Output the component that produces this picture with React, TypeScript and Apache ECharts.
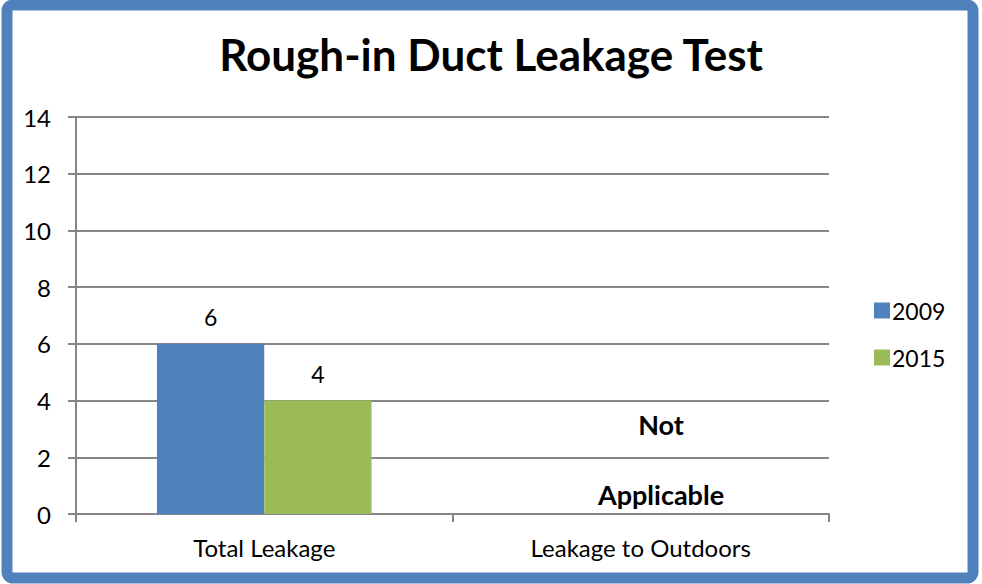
import React, { useEffect, useRef } from "react";
import * as echarts from "echarts";

const categories = ["Total Leakage", "Leakage to Outdoors"];
const series2009 = [6, null];
const series2015 = [4, null];
const seriesNames = ["2009", "2015"];
const notApplicableLines = ["Not", "Applicable"];

const FONT = "Lato, 'Open Sans', sans-serif";

export default function App() {
  const ref = useRef<HTMLDivElement>(null);
  useEffect(() => {
    if (!ref.current) return;
    const chart = echarts.init(ref.current, undefined, { renderer: "svg" });
    chart.setOption({
      animation: false,
      backgroundColor: "#ffffff",
      textStyle: { fontFamily: FONT },
      title: {
        text: "Rough-in Duct Leakage Test",
        left: "center",
        top: 27,
        textStyle: { fontFamily: FONT, fontSize: 44, fontWeight: "bold", color: "#000" },
      },
      legend: {
        orient: "vertical",
        left: 869,
        top: 294,
        itemWidth: 16,
        itemHeight: 16,
        itemGap: 24,
        icon: "rect",
        textStyle: { fontFamily: FONT, fontSize: 23, color: "#000", padding: [0, 0, 0, -3] },
        data: seriesNames,
      },
      grid: { left: 76, right: 153, top: 117, bottom: 70, containLabel: false },
      xAxis: {
        type: "category",
        data: categories,
        axisLine: { lineStyle: { color: "#868686", width: 2 } },
        axisTick: { show: true, length: 8, lineStyle: { color: "#868686", width: 2 } },
        axisLabel: { fontFamily: FONT, fontSize: 24, color: "#000", margin: 21 },
      },
      yAxis: {
        type: "value",
        min: 0,
        max: 14,
        interval: 2,
        axisLine: { show: true, lineStyle: { color: "#868686", width: 2 } },
        axisTick: { show: true, length: 8, lineStyle: { color: "#868686", width: 2 } },
        splitLine: { lineStyle: { color: "#868686", width: 2 } },
        axisLabel: { fontFamily: FONT, fontSize: 24, color: "#000", margin: 25 },
      },
      series: [
        {
          name: seriesNames[0],
          type: "bar",
          data: series2009,
          barGap: "0%",
          barCategoryGap: "43%",
          itemStyle: { color: "#4F81BD" },
          label: { show: true, position: "top", distance: 15, fontFamily: FONT, fontSize: 23, color: "#000" },
        },
        {
          name: seriesNames[1],
          type: "bar",
          data: series2015,
          itemStyle: { color: "#9BBB59" },
          label: { show: true, position: "top", distance: 15, fontFamily: FONT, fontSize: 23, color: "#000" },
        },
      ],
      graphic: [
        {
          type: "rect",
          shape: { x: 7, y: 5, width: 966, height: 573, r: 6 },
          style: { fill: "none", stroke: "#4F81BD", lineWidth: 11 },
          silent: true,
          z: 100,
        },
        {
          type: "text",
          x: 661,
          y: 424,
          style: {
            text: notApplicableLines[0],
            fontFamily: FONT,
            fontSize: 27,
            fontWeight: "bold",
            fill: "#000",
            textAlign: "center",
            textVerticalAlign: "middle",
          },
        },
        {
          type: "text",
          x: 661,
          y: 494,
          style: {
            text: notApplicableLines[1],
            fontFamily: FONT,
            fontSize: 27,
            fontWeight: "bold",
            fill: "#000",
            textAlign: "center",
            textVerticalAlign: "middle",
          },
        },
      ],
    });
    return () => chart.dispose();
  }, []);
  return <div ref={ref} style={{ width: 982, height: 584, position: "absolute", left: 0, top: 0 }} />;
}
